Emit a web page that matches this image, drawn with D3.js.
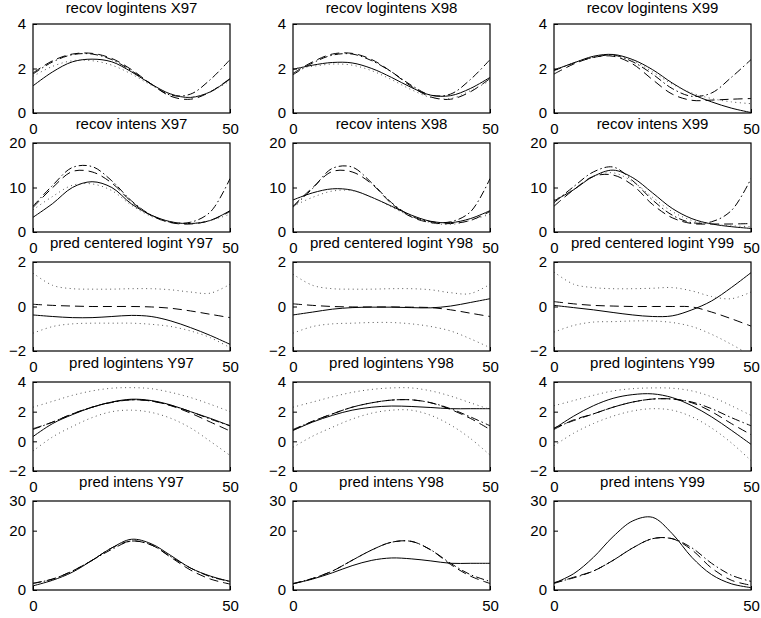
<!DOCTYPE html>
<html>
<head>
<meta charset="utf-8">
<script src="https://cdn.jsdelivr.net/npm/d3@7/dist/d3.min.js"></script>
<style>
  html, body { margin: 0; padding: 0; background: #fff; }
  svg { display: block; }
  text { font-family: "Liberation Sans", Arial, Helvetica, sans-serif; fill: #000; }
</style>
</head>
<body>
<svg id="fig" width="761" height="618"></svg>
<script>
// Common abscissa for every panel (0 .. 50)
const xGrid = [0, 5, 10, 15, 20, 25, 30, 35, 40, 45, 50];
const xTicks = [0, 50];

// Row settings
const rowTitles = [
  ["recov logintens X97", "recov logintens X98", "recov logintens X99"],
  ["recov intens X97", "recov intens X98", "recov intens X99"],
  ["pred centered logint Y97", "pred centered logint Y98", "pred centered logint Y99"],
  ["pred logintens Y97", "pred logintens Y98", "pred logintens Y99"],
  ["pred intens Y97", "pred intens Y98", "pred intens Y99"]
];
const rowDomains = [[0, 4], [0, 20], [-2, 2], [-2, 4], [0, 30]];
const rowTicks = [[0, 2, 4], [0, 10, 20], [-2, 0, 2], [-2, 0, 2, 4], [0, 20, 30]];
// Line styles of the series, in the order they are stored
const rowStyles = [
  ["solid", "dashed", "dashdot", "dotted"],
  ["solid", "dashed", "dashdot", "dotted"],
  ["solid", "dashed", "dotted", "dotted"],
  ["solid", "dashed", "dashdot", "dotted", "dotted"],
  ["solid", "dashed", "dashdot"]
];

// recovered log intensity
const recovLogX97 = [
  [1.22, 1.85, 2.3, 2.42, 2.3, 1.85, 1.3, 0.85, 0.7, 0.95, 1.53],
  [1.8, 2.35, 2.65, 2.68, 2.45, 1.95, 1.3, 0.75, 0.62, 0.95, 1.55],
  [1.75, 2.3, 2.62, 2.65, 2.4, 1.9, 1.3, 0.8, 0.85, 1.5, 2.4],
  [1.65, 2.1, 2.35, 2.35, 2.15, 1.75, 1.25, 0.85, 0.7, 0.95, 1.45]
];
const recovLogX98 = [
  [1.96, 2.15, 2.27, 2.25, 2.0, 1.6, 1.15, 0.8, 0.78, 1.1, 1.6],
  [1.78, 2.3, 2.65, 2.68, 2.4, 1.85, 1.2, 0.72, 0.62, 0.95, 1.55],
  [1.72, 2.25, 2.6, 2.65, 2.35, 1.85, 1.25, 0.8, 0.85, 1.5, 2.4],
  [2.0, 2.1, 2.2, 2.15, 1.9, 1.5, 1.05, 0.7, 0.65, 1.0, 1.45]
];
const recovLogX99 = [
  [1.93, 2.25, 2.55, 2.63, 2.4, 1.95, 1.35, 0.85, 0.5, 0.22, 0.02],
  [1.75, 2.2, 2.5, 2.55, 2.2, 1.5, 0.85, 0.57, 0.58, 0.62, 0.65],
  [1.9, 2.25, 2.5, 2.6, 2.3, 1.75, 1.1, 0.75, 0.9, 1.6, 2.4],
  [1.95, 2.25, 2.5, 2.58, 2.35, 1.85, 1.3, 0.9, 0.65, 0.5, 0.42]
];

// recovered intensity
const recovIntX97 = [
  [3.3, 6.4, 10.0, 11.3, 10.0, 6.3, 3.8, 2.3, 1.9, 2.6, 4.8],
  [5.5, 10.0, 13.6, 13.5, 11.0, 6.8, 3.7, 2.1, 1.8, 2.6, 4.6],
  [5.8, 10.5, 14.5, 14.7, 11.5, 7.0, 3.8, 2.2, 2.2, 4.5, 12.0],
  [5.0, 8.0, 10.5, 10.8, 9.3, 6.0, 3.5, 2.2, 1.9, 2.6, 4.0]
];
const recovIntX98 = [
  [7.2, 8.8, 9.7, 9.4, 7.8, 5.8, 3.8, 2.4, 2.1, 3.0, 4.8],
  [5.8, 10.0, 13.6, 13.5, 10.8, 6.4, 3.4, 2.1, 1.9, 2.6, 4.6],
  [5.6, 9.8, 14.3, 14.6, 11.0, 6.6, 3.6, 2.3, 2.3, 4.5, 12.0],
  [5.8, 7.8, 9.2, 9.3, 7.8, 5.6, 3.5, 2.1, 1.7, 2.6, 4.0]
];
const recovIntX99 = [
  [7.0, 9.5, 12.5, 13.9, 12.2, 8.8, 5.3, 3.0, 1.8, 1.2, 0.8],
  [5.8, 9.5, 12.5, 12.8, 10.5, 6.2, 3.2, 1.9, 1.8, 1.8, 1.9],
  [6.6, 10.2, 13.5, 14.6, 11.5, 7.2, 3.8, 2.1, 2.3, 4.8, 12.0],
  [7.2, 9.6, 12.5, 13.3, 11.3, 7.8, 4.6, 2.6, 1.8, 1.4, 1.2]
];

// predicted centered logit with band
const predLogitY97 = [
  [-0.38, -0.45, -0.5, -0.5, -0.45, -0.4, -0.45, -0.65, -0.95, -1.3, -1.7],
  [0.1, 0.05, 0.02, 0.0, 0.0, 0.0, -0.02, -0.08, -0.2, -0.35, -0.5],
  [1.5, 0.95, 0.8, 0.78, 0.78, 0.8, 0.8, 0.75, 0.65, 0.6, 1.0],
  [-1.2, -0.9, -0.78, -0.75, -0.75, -0.75, -0.8, -0.9, -1.1, -1.4, -1.85]
];
const predLogitY98 = [
  [-0.38, -0.25, -0.12, -0.05, -0.03, -0.03, -0.05, -0.06, 0.02, 0.18, 0.35],
  [0.12, 0.05, 0.0, -0.02, -0.02, -0.02, -0.03, -0.05, -0.15, -0.3, -0.45],
  [1.45, 0.95, 0.8, 0.78, 0.78, 0.8, 0.8, 0.75, 0.62, 0.58, 1.0],
  [-1.2, -0.9, -0.78, -0.75, -0.72, -0.72, -0.78, -0.9, -1.1, -1.45, -1.85]
];
const predLogitY99 = [
  [0.05, -0.05, -0.15, -0.27, -0.38, -0.45, -0.42, -0.15, 0.25, 0.85, 1.52],
  [0.22, 0.12, 0.05, 0.02, 0.0, 0.0, 0.0, -0.02, -0.25, -0.55, -0.88],
  [1.55, 1.0, 0.85, 0.8, 0.8, 0.82, 0.85, 0.7, 0.45, 0.35, 0.65],
  [-1.15, -0.85, -0.7, -0.68, -0.65, -0.65, -0.72, -0.9, -1.25, -1.7, -2.2]
];

// predicted log intensity with band
const predLogY97 = [
  [0.32, 1.2, 1.8, 2.3, 2.65, 2.84, 2.75, 2.45, 2.0, 1.55, 1.05],
  [0.85, 1.3, 1.85, 2.3, 2.65, 2.8, 2.72, 2.4, 1.9, 1.3, 0.7],
  [0.8, 1.3, 1.85, 2.3, 2.62, 2.8, 2.72, 2.42, 2.0, 1.5, 1.05],
  [2.3, 2.7, 3.1, 3.4, 3.58, 3.62, 3.55, 3.3, 2.95, 2.5, 2.0],
  [-0.65, 0.3, 1.0, 1.6, 2.0, 2.1, 1.95, 1.55, 0.9, 0.0, -0.95]
];
const predLogY98 = [
  [0.73, 1.3, 1.75, 2.1, 2.3, 2.38, 2.35, 2.28, 2.2, 2.2, 2.2],
  [0.75, 1.35, 1.85, 2.3, 2.6, 2.78, 2.8, 2.6, 2.15, 1.55, 0.8],
  [0.8, 1.35, 1.85, 2.3, 2.6, 2.78, 2.8, 2.6, 2.2, 1.65, 1.05],
  [2.3, 2.65, 3.0, 3.3, 3.5, 3.6, 3.6, 3.4, 3.05, 2.6, 2.15],
  [-0.4, 0.35, 0.95, 1.5, 1.9, 2.1, 2.1, 1.75, 1.1, 0.2, -0.93]
];
const predLogY99 = [
  [0.85, 1.7, 2.4, 2.9, 3.15, 3.2, 2.95, 2.4, 1.65, 0.75, -0.2],
  [0.8, 1.45, 1.85, 2.3, 2.65, 2.85, 2.85, 2.6, 2.0, 1.2, 0.45],
  [0.9, 1.4, 1.85, 2.3, 2.65, 2.85, 2.85, 2.65, 2.2, 1.6, 1.05],
  [2.4, 2.75, 3.1, 3.4, 3.55, 3.6, 3.58, 3.4, 3.0, 2.4, 1.75],
  [-0.3, 0.55, 1.2, 1.7, 2.05, 2.2, 2.1, 1.65, 0.9, -0.1, -1.3]
];

// predicted intensity
const predIntY97 = [
  [1.4, 3.3, 6.0, 10.0, 14.2, 17.1, 15.6, 11.6, 7.4, 4.7, 2.9],
  [2.3, 3.7, 6.4, 10.0, 14.2, 16.5, 15.2, 11.0, 6.7, 3.7, 2.0],
  [2.2, 3.7, 6.4, 10.0, 13.7, 16.5, 15.2, 11.2, 7.4, 4.5, 2.9]
];
const predIntY98 = [
  [2.1, 3.7, 5.8, 8.2, 10.0, 10.8, 10.5, 9.8, 9.0, 9.0, 9.0],
  [2.1, 3.9, 6.4, 10.0, 13.5, 16.1, 16.4, 13.5, 8.6, 4.7, 2.2],
  [2.2, 3.9, 6.4, 10.0, 13.5, 16.1, 16.4, 13.5, 9.0, 5.2, 2.9]
];
const predIntY99 = [
  [2.3, 5.5, 11.0, 18.0, 23.3, 24.5, 19.0, 11.0, 5.2, 2.1, 0.8],
  [2.2, 4.3, 6.4, 10.0, 14.2, 17.3, 17.3, 13.5, 7.4, 3.3, 1.6],
  [2.5, 4.1, 6.4, 10.0, 14.2, 17.3, 17.3, 14.2, 9.0, 5.0, 2.9]
];

const panelSeries = [
  [recovLogX97, recovLogX98, recovLogX99],
  [recovIntX97, recovIntX98, recovIntX99],
  [predLogitY97, predLogitY98, predLogitY99],
  [predLogY97, predLogY98, predLogY99],
  [predIntY97, predIntY98, predIntY99]
];

// ---- layout ----
const colLeft = [33, 293, 554];
const rowTop = [24, 143, 262, 382, 501];
const panelW = 197, panelH = 89;

const dashFor = {
  solid: null,
  dashed: "9,5",
  dashdot: "8,3,1.5,3",
  dotted: "1,3.5"
};

const svg = d3.select("#fig");
const fmt = d => (d < 0 ? "\u2212" + Math.abs(d) : String(d));

panelSeries.forEach((row, r) => {
  row.forEach((series, c) => {
    const x0 = colLeft[c], y0 = rowTop[r];
    const x = d3.scaleLinear().domain([0, 50]).range([x0, x0 + panelW]);
    const y = d3.scaleLinear().domain(rowDomains[r]).range([y0 + panelH, y0]);
    const g = svg.append("g");

    const clipId = `clip-${r}-${c}`;
    g.append("clipPath").attr("id", clipId)
      .append("rect").attr("x", x0).attr("y", y0).attr("width", panelW).attr("height", panelH);

    const line = d3.line()
      .x((d, i) => x(xGrid[i]))
      .y(d => y(d))
      .curve(d3.curveCatmullRom.alpha(0.5));

    const lines = g.append("g").attr("clip-path", `url(#${clipId})`);
    series.forEach((vals, k) => {
      const style = rowStyles[r][k];
      lines.append("path")
        .attr("d", line(vals))
        .attr("fill", "none")
        .attr("stroke", style === "dotted" ? "#555" : "#000")
        .attr("stroke-width", 1)
        .attr("stroke-dasharray", dashFor[style]);
    });

    // left axis
    const yAxis = d3.axisLeft(y).tickValues(rowTicks[r]).tickSize(-4).tickPadding(7).tickFormat(fmt);
    const ya = g.append("g").attr("transform", `translate(${x0},0)`).call(yAxis);
    // bottom axis
    const xAxis = d3.axisBottom(x).tickValues(xTicks).tickSize(-4).tickPadding(10).tickFormat(fmt);
    const xa = g.append("g").attr("transform", `translate(0,${y0 + panelH})`).call(xAxis);
    [ya, xa].forEach(a => {
      a.select(".domain").remove();
      a.selectAll(".tick line").attr("stroke", "#000");
      a.selectAll(".tick text").style("font-size", "15px").attr("fill", "#000");
    });

    // frame
    g.append("rect").attr("x", x0).attr("y", y0).attr("width", panelW).attr("height", panelH)
      .attr("fill", "none").attr("stroke", "#000").attr("stroke-width", 1.2);

    // title (kept inside the page for the top row)
    g.append("text")
      .attr("x", x0 + panelW / 2)
      .attr("y", Math.max(y0 - 14, 13))
      .attr("text-anchor", "middle")
      .style("font-size", "15px")
      .text(rowTitles[r][c]);
  });
});
</script>
</body>
</html>
